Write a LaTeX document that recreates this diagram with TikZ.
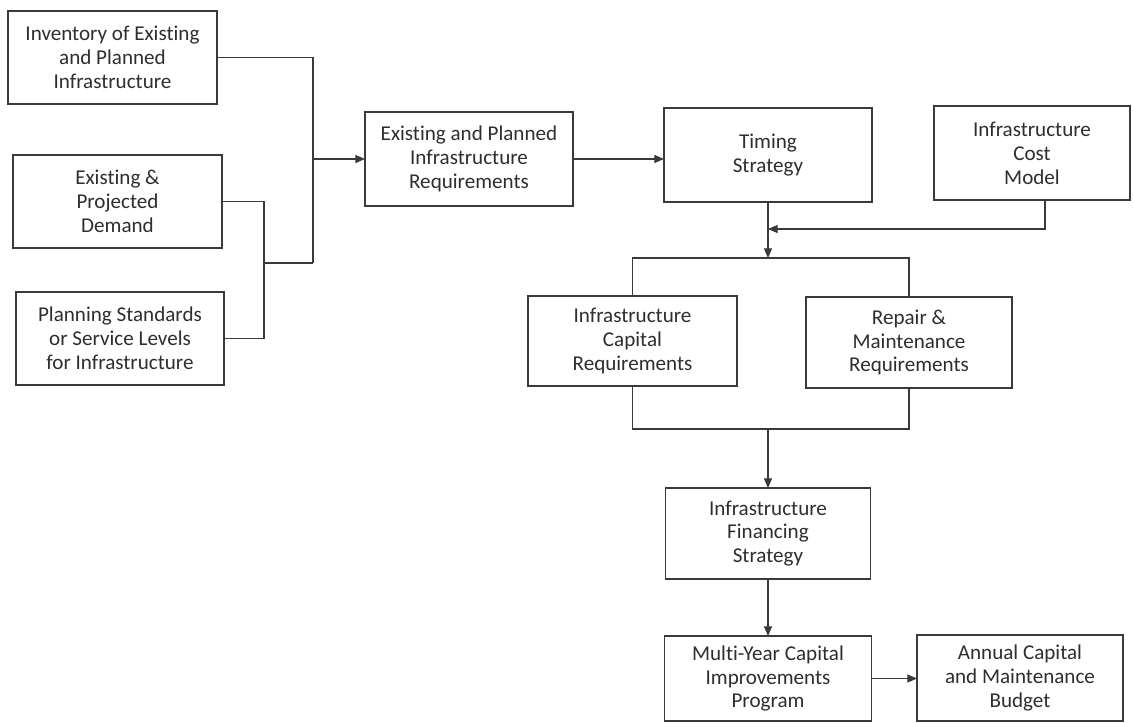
\documentclass[tikz,border=0pt]{standalone}
\usepackage{fontspec}
\setmainfont{Carlito}[Ligatures=NoCommon]
\usepackage{tikz}
\usetikzlibrary{arrows.meta,positioning,calc}
\definecolor{inkline}{HTML}{3A3A3A}
\definecolor{inktext}{HTML}{2E2E2E}

\begin{document}
\begin{tikzpicture}[x=0.025cm,y=-0.025cm,
  stagebox/.style={draw=inkline,line width=0.8pt,align=center,inner sep=0pt,outer sep=0pt,
    text=inktext,font=\fontsize{15}{17}\selectfont},
  link/.style={draw=inkline,line width=0.8pt},
  flow/.style={link,-{Triangle[length=2.4mm,width=2mm]}}]
  \useasboundingbox (0,0) rectangle (1133,723);

  % Inputs on the left
  \node[stagebox,minimum width=5.225cm,minimum height=2.325cm] (inv) at (112.5,57.5) {Inventory of Existing\\and Planned\\Infrastructure};
  \node[stagebox,minimum width=5.225cm,minimum height=2.325cm] (dem) at (117.5,201.5) {Existing \&\\Projected\\Demand};
  \node[stagebox,minimum width=5.2cm,minimum height=2.325cm] (std) at (120,338.5) {Planning Standards\\or Service Levels\\for Infrastructure};

  % Top row
  \node[stagebox,minimum width=5.2cm,minimum height=2.35cm] (req) at (469,159) {Existing and Planned\\Infrastructure\\Requirements};
  \node[stagebox,minimum width=5.2cm,minimum height=2.35cm] (tim) at (768,155) {Timing\\Strategy};
  \node[stagebox,minimum width=4.9cm,minimum height=2.35cm] (cost) at (1032,153) {Infrastructure\\Cost\\Model};

  % Requirements split
  \node[stagebox,minimum width=5.225cm,minimum height=2.25cm] (cap) at (632.5,341) {Infrastructure\\Capital\\Requirements};
  \node[stagebox,minimum width=5.15cm,minimum height=2.275cm] (rep) at (909,342.5) {Repair \&\\Maintenance\\Requirements};

  % Financing and outputs
  \node[stagebox,minimum width=5.125cm,minimum height=2.275cm] (fin) at (768,533.5) {Infrastructure\\Financing\\Strategy};
  \node[stagebox,minimum width=5.175cm,minimum height=2.125cm] (myc) at (768,678.5) {Multi-Year Capital\\Improvements\\Program};
  \node[stagebox,minimum width=5.15cm,minimum height=2.15cm] (ann) at (1020,678) {Annual Capital\\and Maintenance\\Budget};

  % Junction points
  \coordinate (jA) at (313,263);
  \coordinate (jB) at (264,263);
  \coordinate (cs) at ([xshift=0.325cm]cost.south);
  \coordinate (mrg) at (768,229);
  \coordinate (spl) at (768,258);
  \coordinate (jn) at (768,429);

  % Left side collector
  \draw[link] (inv.east) -| (jA);
  \draw[link] (dem.east) -| (jB) |- (std.east);
  \draw[link] (jB) -- (jA);
  \draw[flow] (jA |- req.west) -- (req.west);

  % Main chain
  \draw[flow] (req.east) -- (req.east -| tim.west);
  \draw[flow] (tim.south) -- (spl);
  \draw[flow] (cs) |- (mrg);
  \draw[link] (cap.north) |- (spl) -| (rep.north);
  \draw[link] (cap.south) |- (jn) -| (rep.south);
  \draw[flow] (jn) -- (fin.north);
  \draw[flow] (fin.south) -- (myc.north);
  \draw[flow] (myc.east) -- (myc.east -| ann.west);
\end{tikzpicture}
\end{document}
